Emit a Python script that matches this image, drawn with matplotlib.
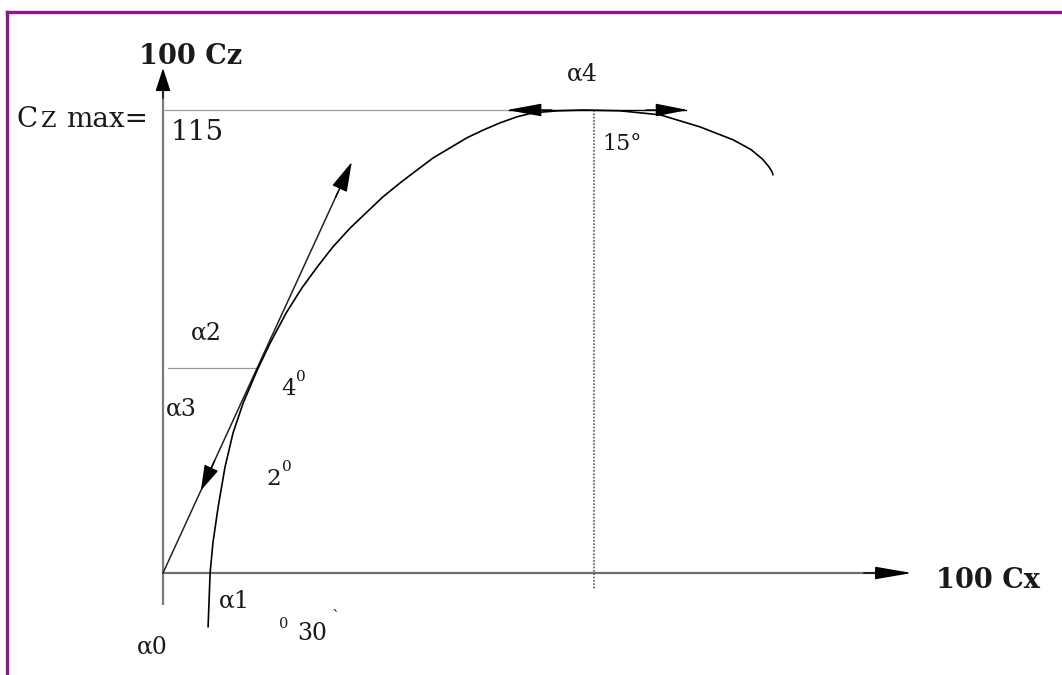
import matplotlib
matplotlib.use("Agg")
import matplotlib.pyplot as plt
from matplotlib.lines import Line2D
import numpy as np

# ---- data (units: 100 Cx, 100 Cz) ----
polar_cx = [11.2, 11.7, 12.4, 13.7, 15.4, 17.4, 19.9, 23.4, 26.6, 30.6, 34.5,
            38.3, 42.2, 46.5, 50.7, 54.6, 58.9, 63.1, 67.1, 71.3, 75.5, 79.5,
            83.7, 87.9, 91.9, 98.1, 104.3, 113.5, 123.5, 133.4, 141.6, 146.0,
            148.9, 150.5, 151.3, 151.5]
polar_cz = [-13.4, 0.0, 7.5, 16.4, 26.3, 34.8, 42.2, 50.4, 57.1, 64.6, 70.8,
            76.0, 81.0, 85.7, 89.7, 93.4, 96.9, 100.1, 103.1, 105.6, 108.1, 110.0,
            111.8, 113.3, 114.3, 114.8, 115.0, 114.8, 113.8, 110.8, 107.6, 105.2,
            102.8, 100.9, 99.6, 98.9]
cz_max = 115
cx_at_czmax = 107.1
tangent_end = (46.9, 102.1)
tangent_point_cz = 50.8
tangent_point_cx = 23.4

W, H = 1062, 675
ORIGIN = (163, 573)
PPU = 463 / 115.0  # pixels per unit

fig = plt.figure(figsize=(W / 100, H / 100), dpi=100)
ax = fig.add_axes([0, 0, 1, 1])
ax.set_xlim(-ORIGIN[0] / PPU, (W - ORIGIN[0]) / PPU)
ax.set_ylim((ORIGIN[1] - H) / PPU, ORIGIN[1] / PPU)
ax.axis("off")

def head(tip, frm, length_px, width_px, color="black"):
    tip = np.array(tip, float); frm = np.array(frm, float)
    d = tip - frm
    d = d / np.hypot(*d)
    start = tip - d * (length_px * 1.5 / PPU)
    ms = 10
    hl = length_px * 0.72 / ms
    hw = (width_px / 2) * 0.72 / ms
    ax.annotate("", xy=tuple(tip), xytext=tuple(start),
                arrowprops=dict(arrowstyle=f"-|>,head_length={hl},head_width={hw}",
                                mutation_scale=ms, color=color, lw=1.0,
                                shrinkA=0, shrinkB=0))

axis_gray = "#7a7a7a"
# axes
ax.plot([0, 0], [-7.9, 124], color=axis_gray, lw=1.6, solid_capstyle="butt")
head((0, 125.4), (0, 0), 20, 13)
ax.plot([0, 184], [0, 0], color="#6e6e6e", lw=1.6, solid_capstyle="butt")
head((186.0, 0), (0, 0), 32, 11)

# Cz max guide line
ax.plot([0, cx_at_czmax], [cz_max, cz_max], color="#9a9a9a", lw=0.9)
ax.plot([86, 130], [cz_max, cz_max], color="black", lw=1.0)
head((85.4, cz_max), (104, cz_max), 30, 11)
head((130.4, cz_max), (104, cz_max), 28, 11)

# vertical dotted line at Cz max
ax.plot([cx_at_czmax, cx_at_czmax], [cz_max, -4.2], color="#555555", lw=1.2,
        linestyle=(0, (1, 1)))

# alpha2 horizontal
ax.plot([1.2, tangent_point_cx], [tangent_point_cz, tangent_point_cz],
        color="#9a9a9a", lw=0.9)

# tangent line from origin
ax.plot([0, tangent_end[0] * 0.93], [0, tangent_end[1] * 0.93], color="#222222", lw=1.1)
head(tangent_end, (0, 0), 26, 14)
slope = tangent_end[1] / tangent_end[0]
head((9.4, 9.4 * slope), tangent_end, 22, 13)

# polar curve
ax.plot(polar_cx, polar_cz, color="black", lw=1.2, solid_joinstyle="round",
        solid_capstyle="round")

# frame (purple)
fig.add_artist(Line2D([7 / W, 1], [1 - 12 / H, 1 - 12 / H], transform=fig.transFigure,
                      color="#8a1a8a", lw=2.4))
fig.add_artist(Line2D([7 / W, 7 / W], [0, 1 - 12 / H], transform=fig.transFigure,
                      color="#8a1a8a", lw=2.4))

def t(px, py, s, size, bold=False, ha="left", va="center", color="#1a1a1a"):
    fig.text(px / W, 1 - py / H, s, fontsize=size, ha=ha, va=va,
             family="DejaVu Serif", fontweight="bold" if bold else "normal",
             color=color)

t(139, 57, "100 Cz", 19.5, bold=True)
t(936, 580, "100 Cx", 19.5, bold=True)
t(16, 127, "C", 20, va="baseline")
t(41, 127, "Z", 16, va="baseline")
t(66, 127, "max=", 20, va="baseline")
t(171, 132, "115", 20)
t(567, 74, "α4", 17)
t(602, 144, "15°", 16)
t(191, 333, "α2", 17)
t(166, 409, "α3", 17)
t(281, 389, "4", 16.5)
t(296, 377, "0", 11)
t(266, 479, "2", 16.5)
t(282, 467, "0", 11)
t(219, 601, "α1", 17)
t(279, 624, "0", 10.5)
t(297, 633, "30", 17)
t(332, 618, "`", 12)
t(137, 647, "α0", 17)

fig.savefig("out.png", dpi=100)
